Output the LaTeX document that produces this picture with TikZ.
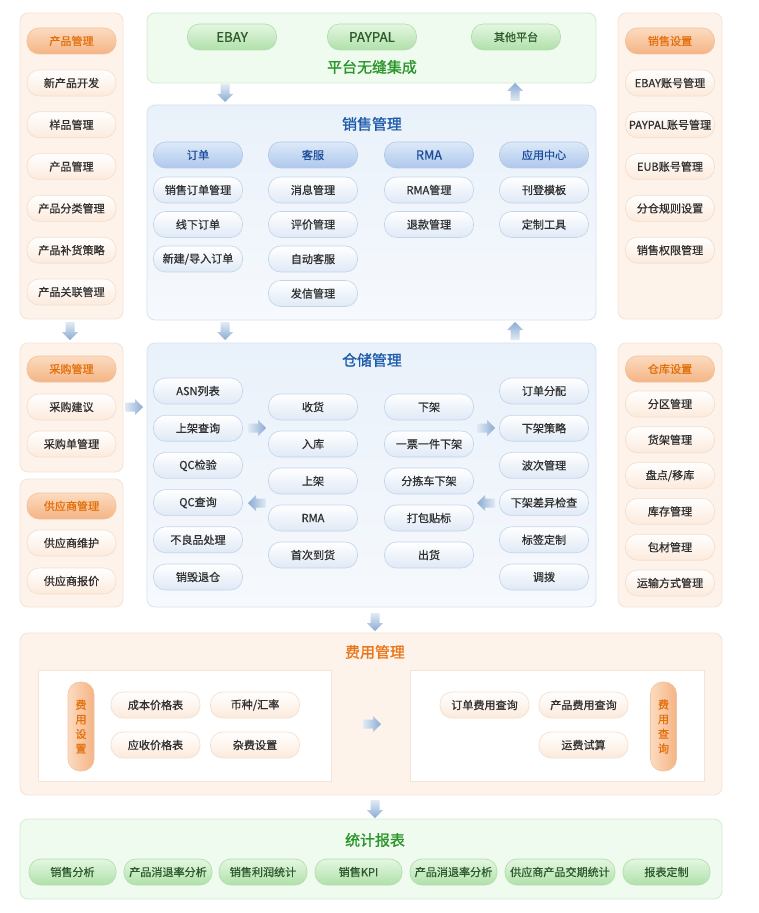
\documentclass[tikz,border=0pt]{standalone}
\usepackage{fontspec}
\setmainfont{Noto Sans CJK SC}
\newfontfamily\itemfont{Noto Sans CJK SC}[FakeBold=0.7]
\newfontfamily\headfont{Noto Sans CJK SC}[FakeBold=1.2]
\definecolor{txt}{HTML}{303030}
\definecolor{oitemB}{HTML}{FCEADC}
\definecolor{oitemD}{HTML}{F4DECC}
\definecolor{oheadT}{HTML}{FCDBC0}
\definecolor{oheadB}{HTML}{F4B484}
\definecolor{oheadD}{HTML}{F1C29E}
\definecolor{oheadTxt}{HTML}{E46F0A}
\definecolor{bitemB}{HTML}{DFE9F6}
\definecolor{bitemD}{HTML}{C4D5EA}
\definecolor{bheadT}{HTML}{DDE9F9}
\definecolor{bheadB}{HTML}{AEC8EC}
\definecolor{bheadD}{HTML}{B2C8E7}
\definecolor{bheadTxt}{HTML}{1B4C9A}
\definecolor{gitemT}{HTML}{E4F7E1}
\definecolor{gitemB}{HTML}{B0E0AA}
\definecolor{gitemD}{HTML}{B2DCAD}
\definecolor{gitemTxt}{HTML}{2C5A2C}
\definecolor{opanelF}{HTML}{FEF3EA}
\definecolor{opanelD}{HTML}{F6E2D2}
\definecolor{bpanelT}{HTML}{E9F1FA}
\definecolor{bpanelB}{HTML}{F6F9FD}
\definecolor{bpanelD}{HTML}{D7E3F1}
\definecolor{gpanelF}{HTML}{F0FBEF}
\definecolor{gpanelD}{HTML}{D1ECD0}
\definecolor{innerD}{HTML}{F3E4D6}
\definecolor{arrL}{HTML}{E2EBF5}
\definecolor{arrR}{HTML}{8AABD3}
\definecolor{titleblue}{HTML}{1E5BAA}
\definecolor{titlegreen}{HTML}{2A962A}
\definecolor{titleorange}{HTML}{E8761A}
\tikzset{
  base/.style={rounded corners=9pt, minimum width=66.75pt, minimum height=19.5pt, inner sep=0pt,
    font=\itemfont\fontsize{8.3}{10}\selectfont, text=txt, line width=0.5pt},
  oitem/.style={base, top color=white, bottom color=oitemB, draw=oitemD},
  ohead/.style={base, top color=oheadT, bottom color=oheadB, draw=oheadD, text=oheadTxt},
  bitem/.style={base, top color=white, bottom color=bitemB, draw=bitemD},
  bhead/.style={base, top color=bheadT, bottom color=bheadB, draw=bheadD, text=bheadTxt},
  gitem/.style={base, top color=gitemT, bottom color=gitemB, draw=gitemD, text=gitemTxt},
  gbig/.style={gitem, font=\itemfont\fontsize{10}{12}\selectfont},
  vpill/.style={rounded corners=9pt, minimum width=19.5pt, minimum height=66.75pt, inner sep=0pt,
    left color=oheadT, right color=oheadB, draw=oheadD, text=oheadTxt, align=center,
    font=\itemfont\fontsize{8.3}{11}\selectfont},
  opanel/.style={rounded corners=6pt, fill=opanelF, draw=opanelD, line width=0.6pt},
  bpanel/.style={rounded corners=6pt, top color=bpanelT, bottom color=bpanelB, draw=bpanelD, line width=0.6pt},
  gpanel/.style={rounded corners=6pt, fill=gpanelF, draw=gpanelD, line width=0.6pt},
  inner/.style={fill=white, draw=innerD, line width=0.5pt},
  ttl/.style={font=\headfont\fontsize{11.2}{13}\selectfont},
  aright/.style={left color=arrL, right color=arrR},
  aleft/.style={left color=arrR, right color=arrL},
  adown/.style={top color=arrL, bottom color=arrR},
  aup/.style={top color=arrR, bottom color=arrL}
}
% block arrow: centre x, centre y, direction dx, dy, shading style
\newcommand\blockarr[5]{%
  \shade[#5]
    ({#1+(-9)*#3-(-4.5)*#4},{#2+(-9)*#4+(-4.5)*#3}) --
    ({#1+(1)*#3-(-4.5)*#4},{#2+(1)*#4+(-4.5)*#3}) --
    ({#1+(1)*#3-(-8)*#4},{#2+(1)*#4+(-8)*#3}) --
    ({#1+(9)*#3},{#2+(9)*#4}) --
    ({#1+(1)*#3-(8)*#4},{#2+(1)*#4+(8)*#3}) --
    ({#1+(1)*#3-(4.5)*#4},{#2+(1)*#4+(4.5)*#3}) --
    ({#1+(-9)*#3-(4.5)*#4},{#2+(-9)*#4+(4.5)*#3}) -- cycle;}
\begin{document}
\begin{tikzpicture}[x=0.75pt,y=-0.75pt]
\useasboundingbox (0,0) rectangle (758,913);
\fill[white] (0,0) rectangle (758,913);

% ---------- panels ----------
\draw[opanel] (20,13) rectangle (123,319);
\draw[gpanel] (147,13) rectangle (596,83);
\draw[bpanel] (147,105) rectangle (596,320);
\draw[opanel] (618,13) rectangle (722,319);
\draw[opanel] (20,343) rectangle (123,472);
\draw[opanel] (20,479) rectangle (123,607);
\draw[bpanel] (147,343) rectangle (596,607);
\draw[opanel] (618,343) rectangle (722,607);
\draw[opanel] (20,633) rectangle (722,795);
\draw[inner] (38,670) rectangle (331,781);
\draw[inner] (410,670) rectangle (704,781);
\draw[gpanel] (20,819) rectangle (722,899);

% ---------- platform ----------
\node[gbig] (ebay) at (232,37) {EBAY};
\node[gbig] (paypal) at (372,37) {PAYPAL};
\node[gitem] (other) at (516,37) {其他平台};
\node[ttl, text=titlegreen] (ptitle) at (372,67) {平台无缝集成};

% ---------- product management ----------
\node[ohead] (ph) at (71.5,41) {产品管理};
\foreach \t [count=\i] in {新产品开发,样品管理,产品管理,产品分类管理,产品补货策略,产品关联管理}
  \node[oitem] (p\i) at (71.5,{83+(\i-1)*41.8}) {\t};

% ---------- sales settings ----------
\node[ohead] (sh) at (670,41) {销售设置};
\foreach \t [count=\i] in {EBAY账号管理,PAYPAL账号管理,EUB账号管理,分仓规则设置,销售权限管理}
  \node[oitem] (s\i) at (670,{83+(\i-1)*41.8}) {\t};

% ---------- sales management ----------
\node[ttl, text=titleblue] (stitle) at (372,124) {销售管理};
\node[bhead] (oh) at (198,155) {订单};
\node[bhead] (kh) at (313,155) {客服};
\node[bhead, font=\itemfont\fontsize{9.5}{11}\selectfont] (rh) at (429,155) {RMA};
\node[bhead] (ah) at (544,155) {应用中心};
\foreach \t [count=\i] in {销售订单管理,线下订单,新建/导入订单}
  \node[bitem] (o\i) at (198,{190+(\i-1)*34.5}) {\t};
\foreach \t [count=\i] in {消息管理,评价管理,自动客服,发信管理}
  \node[bitem] (k\i) at (313,{190+(\i-1)*34.5}) {\t};
\foreach \t [count=\i] in {RMA管理,退款管理}
  \node[bitem] (r\i) at (429,{190+(\i-1)*34.5}) {\t};
\foreach \t [count=\i] in {刊登模板,定制工具}
  \node[bitem] (a\i) at (544,{190+(\i-1)*34.5}) {\t};

% ---------- purchase / supplier ----------
\node[ohead] (ch) at (71.5,369) {采购管理};
\node[oitem] (c1) at (71.5,407) {采购建议};
\node[oitem] (c2) at (71.5,444) {采购单管理};
\node[ohead] (gh) at (71.5,506) {供应商管理};
\node[oitem] (g1) at (71.5,543) {供应商维护};
\node[oitem] (g2) at (71.5,581) {供应商报价};

% ---------- warehouse ----------
\node[ttl, text=titleblue] (wtitle) at (372,360) {仓储管理};
\foreach \t [count=\i] in {ASN列表,上架查询,QC检验,QC查询,不良品处理,销毁退仓}
  \node[bitem] (w\i) at (198,{391+(\i-1)*37.2}) {\t};
\foreach \t [count=\i] in {收货,入库,上架,RMA,首次到货}
  \node[bitem] (x\i) at (313,{407+(\i-1)*37}) {\t};
\foreach \t [count=\i] in {下架,一票一件下架,分拣车下架,打包贴标,出货}
  \node[bitem] (y\i) at (429,{407+(\i-1)*37}) {\t};
\foreach \t [count=\i] in {订单分配,下架策略,波次管理,下架差异检查,标签定制,调拨}
  \node[bitem] (z\i) at (544,{391+(\i-1)*37.2}) {\t};

% ---------- warehouse settings ----------
\node[ohead] (kh2) at (670,369) {仓库设置};
\foreach \t [count=\i] in {分区管理,货架管理,盘点/移库,库存管理,包材管理,运输方式管理}
  \node[oitem] (v\i) at (670,{404+(\i-1)*35.8}) {\t};

% ---------- cost management ----------
\node[ttl, text=titleorange] (ctitle) at (375,652) {费用管理};
\node[vpill] (fs) at (81,726.5) {费\\用\\设\\置};
\node[oitem] (f1) at (155.5,705) {成本价格表};
\node[oitem] (f2) at (255,705) {币种/汇率};
\node[oitem] (f3) at (155.5,745) {应收价格表};
\node[oitem] (f4) at (255,745) {杂费设置};
\node[oitem] (q1) at (484.5,705) {订单费用查询};
\node[oitem] (q2) at (583.5,705) {产品费用查询};
\node[oitem] (q3) at (583.5,745) {运费试算};
\node[vpill] (fq) at (663.5,726.5) {费\\用\\查\\询};

% ---------- statistics ----------
\node[ttl, text=titlegreen] (rtitle) at (375,840) {统计报表};
\node[gitem, minimum width=65.25pt] (t1) at (72.5,872) {销售分析};
\node[gitem, minimum width=66pt] (t2) at (168,872) {产品消退率分析};
\node[gitem, minimum width=66pt] (t3) at (263,872) {销售利润统计};
\node[gitem, minimum width=65.25pt] (t4) at (358.5,872) {销售KPI};
\node[gitem, minimum width=65.25pt] (t5) at (453.5,872) {产品消退率分析};
\node[gitem, minimum width=82.5pt] (t6) at (560,872) {供应商产品交期统计};
\node[gitem, minimum width=65.25pt] (t7) at (666.5,872) {报表定制};

% ---------- block arrows ----------
\blockarr{225}{93}{0}{1}{adown}
\blockarr{515}{92}{0}{-1}{aup}
\blockarr{70}{331}{0}{1}{adown}
\blockarr{225}{331}{0}{1}{adown}
\blockarr{515}{331}{0}{-1}{aup}
\blockarr{134}{407}{1}{0}{aright}
\blockarr{257}{428}{1}{0}{aright}
\blockarr{257}{503}{-1}{0}{aleft}
\blockarr{486}{428}{1}{0}{aright}
\blockarr{486}{503}{-1}{0}{aleft}
\blockarr{375}{622}{0}{1}{adown}
\blockarr{372}{724}{1}{0}{aright}
\blockarr{375}{809}{0}{1}{adown}
\end{tikzpicture}
\end{document}
